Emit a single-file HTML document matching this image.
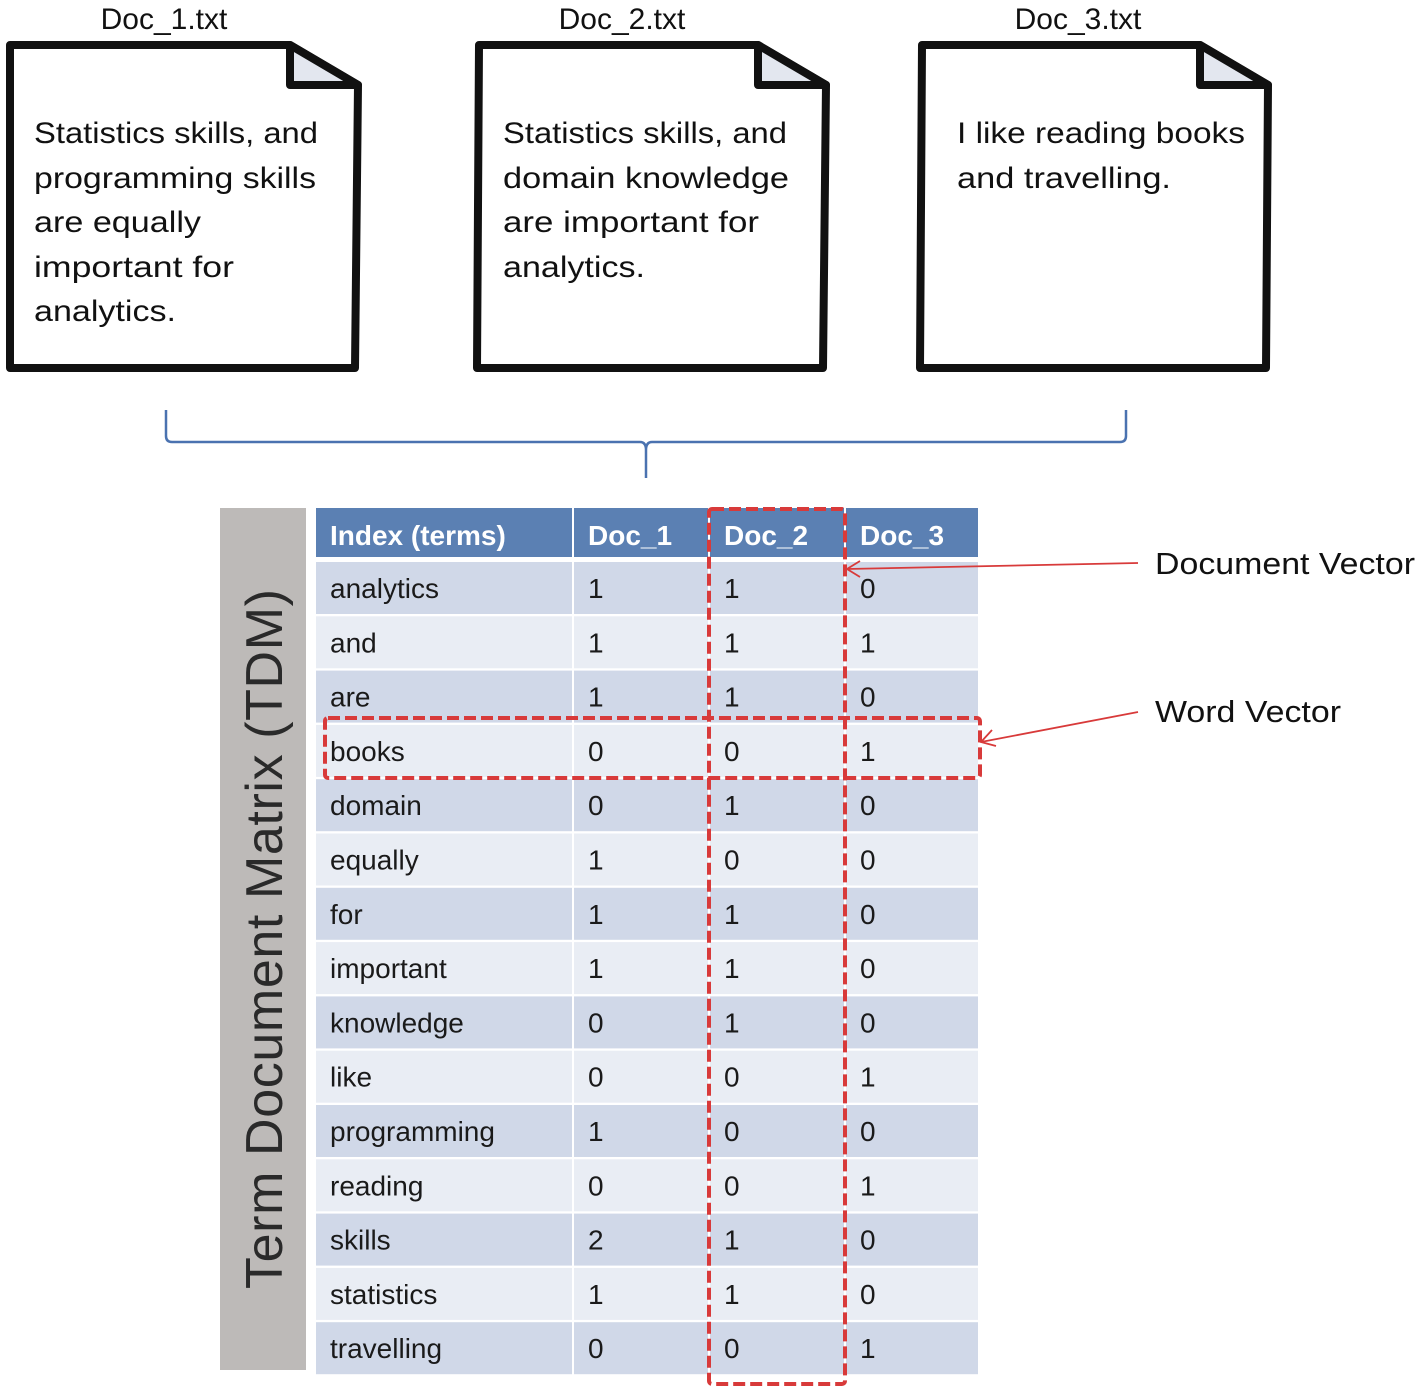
<!DOCTYPE html>
<html><head><meta charset="utf-8"><style>
html,body{margin:0;padding:0;background:#fff;}
svg{display:block;font-family:"Liberation Sans",sans-serif;}
</style></head><body>
<svg width="1425" height="1393" viewBox="0 0 1425 1393" xmlns="http://www.w3.org/2000/svg">
<g font-size="30" fill="#111" text-anchor="middle">
<text x="164" y="29">Doc_1.txt</text>
<text x="622" y="29">Doc_2.txt</text>
<text x="1078" y="29">Doc_3.txt</text>
</g>
<g stroke="#111" stroke-width="8" stroke-linejoin="round" fill="#fff">
<path d="M10,45 L290,45 L358,85 L355,368 L10,368 Z"/>
<path d="M290,45 L290,85 L358,85 Z" fill="#e3e7ef"/>
<path d="M479,45 L758,45 L826,85 L823,368 L477,368 Z"/>
<path d="M758,45 L758,85 L826,85 Z" fill="#e3e7ef"/>
<path d="M922,45 L1200,45 L1268,85 L1266,368 L920,368 Z"/>
<path d="M1200,45 L1200,85 L1268,85 Z" fill="#e3e7ef"/>
</g>
<g font-size="30" fill="#111" lengthAdjust="spacingAndGlyphs">
<text x="34" y="143" textLength="284" lengthAdjust="spacingAndGlyphs">Statistics skills, and</text>
<text x="34" y="188" textLength="282" lengthAdjust="spacingAndGlyphs">programming skills</text>
<text x="34" y="232" textLength="167" lengthAdjust="spacingAndGlyphs">are equally</text>
<text x="34" y="277" textLength="200" lengthAdjust="spacingAndGlyphs">important for</text>
<text x="34" y="321" textLength="142" lengthAdjust="spacingAndGlyphs">analytics.</text>
<text x="503" y="143" textLength="284" lengthAdjust="spacingAndGlyphs">Statistics skills, and</text>
<text x="503" y="188" textLength="286" lengthAdjust="spacingAndGlyphs">domain knowledge</text>
<text x="503" y="232" textLength="256" lengthAdjust="spacingAndGlyphs">are important for</text>
<text x="503" y="277" textLength="142" lengthAdjust="spacingAndGlyphs">analytics.</text>
<text x="957" y="143" textLength="288" lengthAdjust="spacingAndGlyphs">I like reading books</text>
<text x="957" y="188" textLength="214" lengthAdjust="spacingAndGlyphs">and travelling.</text>
</g>
<path d="M166,410 L166,436 Q166,442 172,442 L640,442 Q646,442 646,450 L646,478 M646,450 Q646,442 652,442 L1120,442 Q1126,442 1126,436 L1126,410" fill="none" stroke="#4a72b0" stroke-width="2.5"/>
<rect x="220" y="508" width="86" height="862" fill="#bdbab8"/>
<text transform="translate(282,939) rotate(-90)" text-anchor="middle" font-size="52" fill="#2a2a2a" textLength="700">Term Document Matrix (TDM)</text>
<g>
<rect x="316" y="508" width="256" height="49" fill="#5b80b3"/>
<rect x="574" y="508" width="134" height="49" fill="#5b80b3"/>
<rect x="710" y="508" width="134" height="49" fill="#5b80b3"/>
<rect x="846" y="508" width="132" height="49" fill="#5b80b3"/>
</g>
<g font-size="28" font-weight="bold" fill="#fff">
<text x="330" y="545">Index (terms)</text>
<text x="588" y="545">Doc_1</text>
<text x="724" y="545">Doc_2</text>
<text x="860" y="545">Doc_3</text>
</g>
<g id="rows" font-size="28" fill="#1a1a1a">
</g>
<script>
(function(){
var d=[["analytics",1,1,0],["and",1,1,1],["are",1,1,0],["books",0,0,1],["domain",0,1,0],["equally",1,0,0],["for",1,1,0],["important",1,1,0],["knowledge",0,1,0],["like",0,0,1],["programming",1,0,0],["reading",0,0,1],["skills",2,1,0],["statistics",1,1,0],["travelling",0,0,1]];
var g=document.getElementById("rows"),ns="http://www.w3.org/2000/svg";
var cx=[[316,256],[574,134],[710,134],[846,132]],tx=[330,588,724,860];
d.forEach(function(r,i){
var y=562+54.3*i,c=i%2?"#e9edf4":"#d0d8e8";
cx.forEach(function(k){var e=document.createElementNS(ns,"rect");e.setAttribute("x",k[0]);e.setAttribute("y",y);e.setAttribute("width",k[1]);e.setAttribute("height",52);e.setAttribute("fill",c);g.appendChild(e);});
r.forEach(function(v,j){var t=document.createElementNS(ns,"text");t.setAttribute("x",tx[j]);t.setAttribute("y",y+36);t.textContent=v;g.appendChild(t);});
});
})();
</script>
<g fill="none" stroke="#d83a3a" stroke-width="4" stroke-dasharray="12,5">
<rect x="709" y="509" width="136" height="875" rx="3"/>
<rect x="325" y="718" width="655" height="60" rx="3"/>
</g>
<g stroke="#d83a3a" stroke-width="1.8" fill="none">
<path d="M1138,563 L847,569"/>
<path d="M860,561 L847,569 L860,577"/>
<path d="M1138,712 L981,742"/>
<path d="M992,730 L981,742 L996,746"/>
</g>
<g font-size="31" fill="#111">
<text x="1155" y="574" textLength="260" lengthAdjust="spacingAndGlyphs">Document Vector</text>
<text x="1155" y="722" textLength="186" lengthAdjust="spacingAndGlyphs">Word Vector</text>
</g>
</svg>
</body></html>
